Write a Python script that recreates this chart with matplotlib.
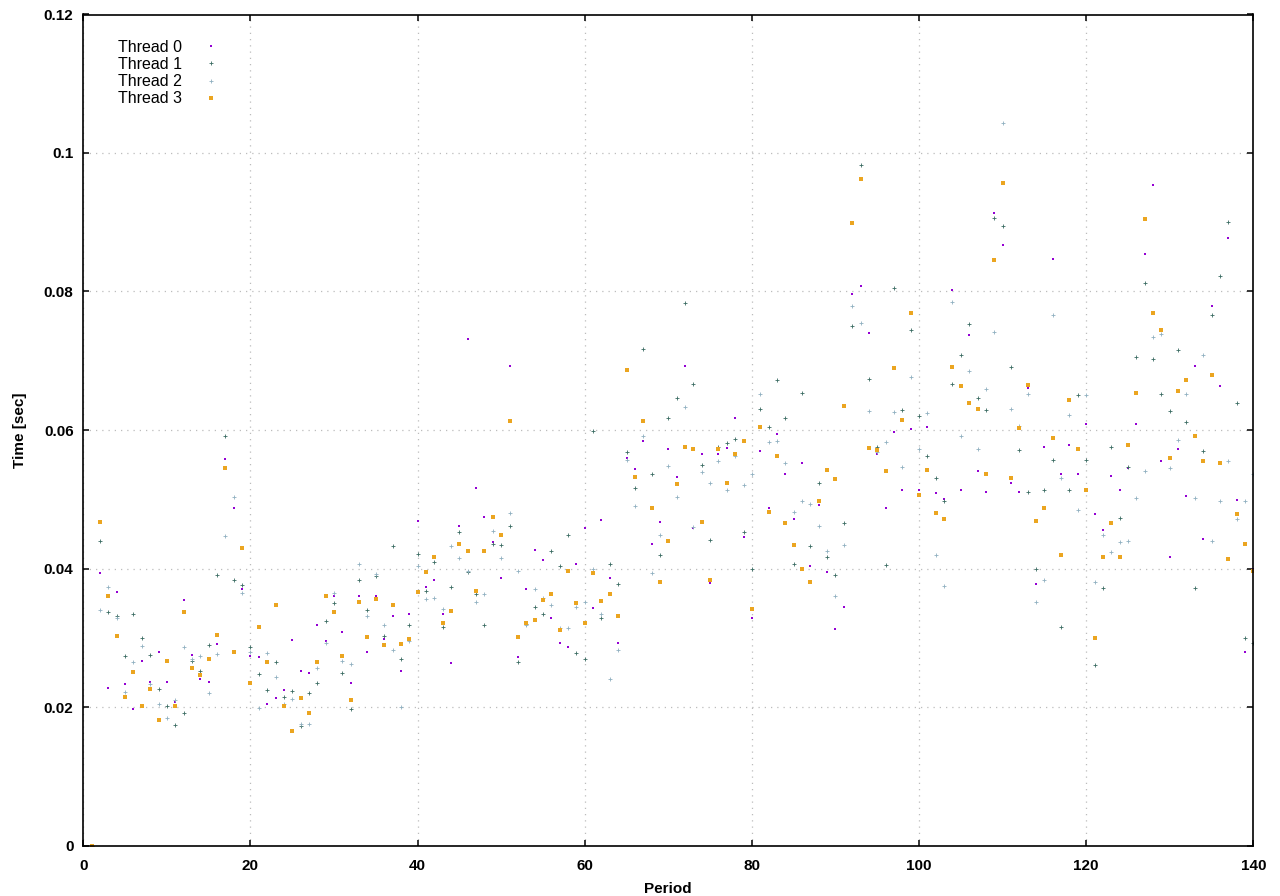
import matplotlib
matplotlib.use("Agg")
import matplotlib.pyplot as plt
import numpy as np

plt.rcParams['font.family'] = ['Liberation Sans', 'DejaVu Sans']

periods = list(range(1, 141))

thread0 = [0, .0393, .0228, .0366, .0233, .0197, .0266, .0236, .0280, .0236,
           .0207, .0354, .0275, .0241, .0236, .0291, .0558, .0487, .0370, .0273,
           .0272, .0205, .0213, .0224, .0297, .0252, .0249, .0318, .0295, .0361,
           .0309, .0234, .0360, .0280, .0360, .0298, .0331, .0252, .0334, .0468,
           .0373, .0383, .0335, .0263, .0461, .0731, .0516, .0475, .0438, .0387,
           .0693, .0272, .0370, .0426, .0412, .0328, .0293, .0286, .0406, .0459,
           .0343, .0470, .0386, .0292, .0560, .0543, .0584, .0435, .0467, .0572,
           .0532, .0693, .0458, .0565, .0379, .0565, .0574, .0617, .0445, .0328,
           .0569, .0488, .0594, .0537, .0471, .0552, .0403, .0491, .0395, .0312,
           .0345, .0797, .0808, .0740, .0566, .0488, .0597, .0514, .0601, .0513,
           .0604, .0509, .0500, .0802, .0514, .0737, .0541, .0511, .0913, .0867,
           .0523, .0510, .0660, .0377, .0575, .0847, .0536, .0578, .0537, .0608,
           .0479, .0456, .0533, .0514, .0545, .0608, .0854, .0954, .0555, .0417,
           .0572, .0505, .0693, .0443, .0779, .0664, .0877, .0499, .0279, .0400]

thread1 = [0, .0439, .0337, .0332, .0274, .0335, .0299, .0275, .0226, .0202,
           .0174, .0192, .0267, .0252, .0289, .0390, .0591, .0384, .0376, .0286,
           .0247, .0224, .0265, .0214, .0223, .0172, .0220, .0234, .0324, .0350,
           .0249, .0197, .0384, .0340, .0389, .0302, .0432, .0270, .0319, .0421,
           .0368, .0410, .0315, .0373, .0452, .0395, .0363, .0318, .0435, .0434,
           .0462, .0265, .0320, .0345, .0335, .0425, .0403, .0449, .0278, .0269,
           .0598, .0328, .0406, .0377, .0568, .0516, .0717, .0536, .0419, .0617,
           .0646, .0783, .0666, .0550, .0441, .0576, .0581, .0587, .0452, .0399,
           .0631, .0604, .0672, .0617, .0406, .0654, .0432, .0523, .0416, .0390,
           .0465, .0750, .0982, .0673, .0575, .0405, .0805, .0629, .0745, .0620,
           .0563, .0531, .0497, .0666, .0708, .0753, .0646, .0629, .0906, .0895,
           .0691, .0571, .0511, .0400, .0514, .0556, .0315, .0514, .0650, .0557,
           .0261, .0372, .0576, .0473, .0546, .0705, .0812, .0703, .0652, .0627,
           .0716, .0612, .0372, .0570, .0766, .0823, .0900, .0639, .0299, .0292]

thread2 = [0, .0340, .0373, .0328, .0221, .0265, .0288, .0233, .0205, .0184,
           .0210, .0286, .0269, .0273, .0220, .0276, .0447, .0503, .0364, .0280,
           .0198, .0278, .0243, .0204, .0211, .0176, .0176, .0256, .0293, .0364,
           .0266, .0262, .0406, .0331, .0392, .0318, .0283, .0200, .0295, .0403,
           .0356, .0357, .0341, .0432, .0415, .0397, .0351, .0363, .0454, .0415,
           .0480, .0397, .0319, .0370, .0357, .0347, .0314, .0314, .0344, .0351,
           .0399, .0335, .0240, .0282, .0556, .0490, .0592, .0393, .0448, .0548,
           .0503, .0633, .0460, .0539, .0524, .0555, .0513, .0563, .0520, .0536,
           .0652, .0582, .0584, .0553, .0481, .0497, .0493, .0462, .0425, .0360,
           .0434, .0779, .0754, .0627, .0568, .0583, .0626, .0546, .0677, .0572,
           .0624, .0419, .0375, .0785, .0592, .0685, .0572, .0659, .0741, .1043,
           .0631, .0606, .0652, .0351, .0384, .0766, .0530, .0621, .0485, .0650,
           .0381, .0449, .0424, .0438, .0440, .0502, .0541, .0734, .0738, .0545,
           .0586, .0652, .0502, .0709, .0439, .0498, .0555, .0472, .0497, .0536]

thread3 = [0, .0467, .0361, .0302, .0214, .0250, .0201, .0226, .0181, .0266,
           .0201, .0337, .0256, .0246, .0269, .0304, .0545, .0279, .0429, .0234,
           .0315, .0265, .0347, .0201, .0166, .0213, .0191, .0265, .0361, .0337,
           .0273, .0210, .0351, .0301, .0356, .0289, .0347, .0291, .0298, .0366,
           .0395, .0416, .0322, .0338, .0436, .0425, .0367, .0425, .0475, .0448,
           .0613, .0301, .0322, .0325, .0355, .0363, .0311, .0397, .0350, .0322,
           .0393, .0353, .0363, .0332, .0686, .0532, .0613, .0488, .0380, .0439,
           .0522, .0576, .0572, .0467, .0384, .0572, .0524, .0566, .0584, .0341,
           .0604, .0481, .0563, .0465, .0434, .0400, .0380, .0498, .0542, .0529,
           .0634, .0899, .0963, .0574, .0571, .0541, .0689, .0614, .0769, .0506,
           .0542, .0480, .0471, .0691, .0663, .0639, .0630, .0536, .0845, .0956,
           .0530, .0603, .0665, .0468, .0488, .0588, .0419, .0644, .0573, .0514,
           .0299, .0417, .0465, .0417, .0579, .0653, .0905, .0769, .0744, .0560,
           .0656, .0672, .0591, .0555, .0679, .0552, .0413, .0478, .0435, .0397]

labels = ["Thread 0", "Thread 1", "Thread 2", "Thread 3"]
colors = ["#9400D3", "#3a6b62", "#8fb0c0", "#EBA520"]
markers = ["s", "+", "+", "s"]
msizes = [1.6, 3.2, 3.2, 3.0]
mews = [0, 0.6, 0.6, 0]

fig = plt.figure(figsize=(12.8, 8.96), dpi=100)
ax = fig.add_axes([83.3 / 1280, 1 - 845.5 / 896, 1170 / 1280, 831 / 896])

series = [thread0, thread1, thread2, thread3]
for vals, lab, c, m, ms, mw in zip(series, labels, colors, markers, msizes, mews):
    ax.plot(periods, vals, linestyle="none", marker=m, markersize=ms,
            markeredgewidth=mw, color=c, markerfacecolor=c, markeredgecolor=c,
            label=lab, clip_on=True)

ax.set_xlim(0, 140)
ax.set_ylim(0, 0.12)
ax.set_xticks(np.arange(0, 141, 20))
ax.set_yticks(np.arange(0, 0.121, 0.02))
ax.set_yticklabels(["0", "0.02", "0.04", "0.06", "0.08", "0.1", "0.12"])

ax.grid(True, color="#bcbcbc", linestyle=(0, (1, 4)), linewidth=0.9)
ax.set_axisbelow(True)

for s in ax.spines.values():
    s.set_linewidth(1.2)
    s.set_color("black")

ax.tick_params(direction="in", length=4.5, width=1.1, top=True, right=True,
               labelsize=11)
ax.tick_params(axis="y", pad=7)
ax.tick_params(axis="x", pad=10)
for t in ax.get_xticklabels() + ax.get_yticklabels():
    t.set_fontweight("bold")

ax.set_xlabel("Period", fontsize=11, fontweight="bold", labelpad=6)
ax.set_ylabel("Time [sec]", fontsize=11, fontweight="bold", labelpad=12)

leg = ax.legend(loc="upper left", bbox_to_anchor=(0.019, 0.985), frameon=False,
                markerfirst=False, fontsize=11.5, handlelength=1.0,
                handletextpad=1.3, labelspacing=0.14, borderpad=0.3)

fig.savefig("out.png", dpi=100)
